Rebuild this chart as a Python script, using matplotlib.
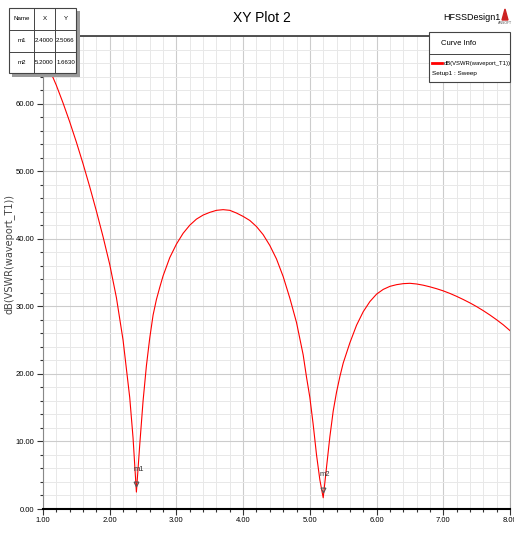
"""XY Plot 2 - dB(VSWR) sweep, HFSS style."""

import matplotlib
matplotlib.use("Agg")
import matplotlib.pyplot as plt
from matplotlib.patches import Rectangle, Polygon
from matplotlib.ticker import MultipleLocator

NARROW = ["Liberation Sans", "DejaVu Sans"]

freq = [1.0, 1.1, 1.2, 1.3, 1.4, 1.5, 1.6, 1.7, 1.8, 1.9, 2.0, 2.1, 2.2, 2.3, 2.35,
        2.4, 2.45, 2.5, 2.55, 2.6, 2.65, 2.7, 2.75, 2.8, 2.9, 3.0, 3.1, 3.2, 3.3, 3.4,
        3.5, 3.6, 3.7, 3.8, 3.9, 4.0, 4.1, 4.2, 4.3, 4.4, 4.5, 4.6, 4.7, 4.8, 4.9,
        4.95, 5.0, 5.05, 5.1, 5.15, 5.2, 5.25, 5.3, 5.35, 5.4, 5.45, 5.5, 5.6, 5.7, 5.8,
        5.9, 6.0, 6.1, 6.2, 6.3, 6.4, 6.5, 6.6, 6.7, 6.8, 6.9, 7.0, 7.1, 7.2, 7.3,
        7.4, 7.5, 7.6, 7.7, 7.8, 7.9, 8.0]
vswr_db = [67.0, 65.0, 62.7, 60.1, 57.3, 54.3, 51.1, 47.7, 44.1, 40.3, 36.2, 31.3, 25.0, 16.5, 10.5,
           2.5066, 9.5, 16.0, 21.2, 25.3, 28.7, 31.0, 32.8, 34.5, 37.2, 39.2, 40.8, 42.0, 42.9, 43.5,
           43.9, 44.2, 44.3, 44.2, 43.8, 43.3, 42.7, 41.8, 40.6, 39.0, 37.0, 34.4, 31.2, 27.6, 22.8,
           19.5, 16.5, 12.5, 8.0, 4.3, 1.6630, 6.2, 10.7, 14.5, 17.3, 19.6, 21.6, 24.6, 27.2, 29.2,
           30.7, 31.8, 32.5, 32.95, 33.2, 33.35, 33.4, 33.3, 33.12, 32.88, 32.6, 32.28, 31.9, 31.47, 31.0,
           30.5, 29.95, 29.35, 28.7, 28.0, 27.25, 26.4]

marker_names = ["m1", "m2"]
marker_x = [2.4, 5.2]
marker_y = [2.5066, 1.6630]

fig = plt.figure(figsize=(5.14, 5.33), dpi=100)
ax = fig.add_axes([43 / 514, 1 - 509 / 533, 467 / 514, 473 / 533])

ax.plot(freq, vswr_db, color="#ff0000", lw=0.8, zorder=3)
ax.set_xlim(1, 8)
ax.set_ylim(0, 70)

ax.xaxis.set_minor_locator(MultipleLocator(0.2))
ax.yaxis.set_minor_locator(MultipleLocator(2))
ax.set_xticks(range(1, 9))
ax.set_xticklabels([f"{v:.2f}" for v in range(1, 9)], family=NARROW, fontsize=5.5)
ax.set_yticks(range(0, 61, 10))
ax.set_yticklabels([f"{v:.2f}" for v in range(0, 61, 10)], family=NARROW, fontsize=5.5)
ax.tick_params(which="major", direction="out", length=4, width=0.8, color="#333333", pad=2)
ax.tick_params(which="minor", direction="out", length=2.5, width=0.8, color="#333333")

ax.grid(which="major", color="#cccccc", lw=0.8)
ax.grid(which="minor", color="#e8e8e8", lw=0.7)
ax.set_axisbelow(True)

ax.spines["bottom"].set_color("black")
ax.spines["bottom"].set_linewidth(1.5)
ax.spines["top"].set_color("#333333")
ax.spines["top"].set_linewidth(1.2)
ax.spines["left"].set_color("#888888")
ax.spines["right"].set_color("#aaaaaa")

ax.set_ylabel("dB(VSWR(waveport_T1))", fontsize=7, color="#444444")
ax.yaxis.set_label_coords(-0.062, 0.54)

# markers
for name, mx, my in zip(marker_names, marker_x, marker_y):
    ax.plot(mx, my + 1.2, marker="v", ms=3.5, mfc="none", mec="#555555", mew=0.8, zorder=4)
    ax.text(mx + 0.03, my + 3.4, name, family=NARROW, fontsize=5.5, color="#333333",
            ha="center", va="center", zorder=4)

fig.text(262 / 514, 1 - 18 / 533, "XY Plot 2", family=NARROW, fontsize=10,
         ha="center", va="center")
fig.text(472 / 514, 1 - 17 / 533, "HFSSDesign1", family=NARROW, fontsize=6.5,
         ha="center", va="center")
fig.add_artist(Polygon([[502 / 514, 1 - 20 / 533], [508 / 514, 1 - 20 / 533], [505 / 514, 1 - 9 / 533]],
                       closed=True, transform=fig.transFigure, color="#cc2222"))
fig.text(505 / 514, 1 - 23 / 533, "ANSOFT", fontsize=2.5, ha="center", va="center", color="#555555")


def px_rect(x0, y0, x1, y1, **kw):
    fig.add_artist(Rectangle((x0 / 514, 1 - y1 / 533), (x1 - x0) / 514, (y1 - y0) / 533,
                             transform=fig.transFigure, **kw))


def px_line(xs, ys, **kw):
    fig.add_artist(plt.Line2D([x / 514 for x in xs], [1 - y / 533 for y in ys],
                              transform=fig.transFigure, **kw))


# marker table
px_rect(12, 11, 80, 77, facecolor="#9a9a9a", edgecolor="none", zorder=5)
px_rect(9, 8, 76, 73, facecolor="white", edgecolor="#444444", lw=0.8, zorder=6)
for yy in [30, 52]:
    px_line([9, 76], [yy, yy], color="#444444", lw=0.7, zorder=7)
for xx in [34, 55]:
    px_line([xx, xx], [8, 73], color="#444444", lw=0.7, zorder=7)
table_rows = [["Name", "X", "Y"]] + [[n, f"{x:.4f}", f"{y:.4f}"]
                                     for n, x, y in zip(marker_names, marker_x, marker_y)]
col_centers = [21.5, 44.5, 65.5]
row_centers = [19, 41, 62.5]
for row, cy in zip(table_rows, row_centers):
    for cell, cx in zip(row, col_centers):
        fig.text(cx / 514, 1 - cy / 533, cell, family=NARROW, fontsize=4.4, ha="center",
                 va="center", zorder=8)

# curve info legend
px_rect(429, 32, 510, 82, facecolor="white", edgecolor="#444444", lw=0.8, zorder=6)
px_line([429, 510], [54, 54], color="#444444", lw=0.7, zorder=7)
fig.text(459 / 514, 1 - 43 / 533, "Curve Info", family=NARROW, fontsize=5.5, ha="center",
         va="center", zorder=8)
px_line([432, 442], [63, 63], color="#ff0000", lw=2, zorder=8)
fig.text(444 / 514, 1 - 63 / 533, "dB(VSWR(waveport_T1))", family=NARROW, fontsize=4.2,
         ha="left", va="center", zorder=8)
fig.text(432 / 514, 1 - 74 / 533, "Setup1 : Sweep", family=NARROW, fontsize=4.6,
         ha="left", va="center", zorder=8)

fig.savefig("out.png", dpi=100)
